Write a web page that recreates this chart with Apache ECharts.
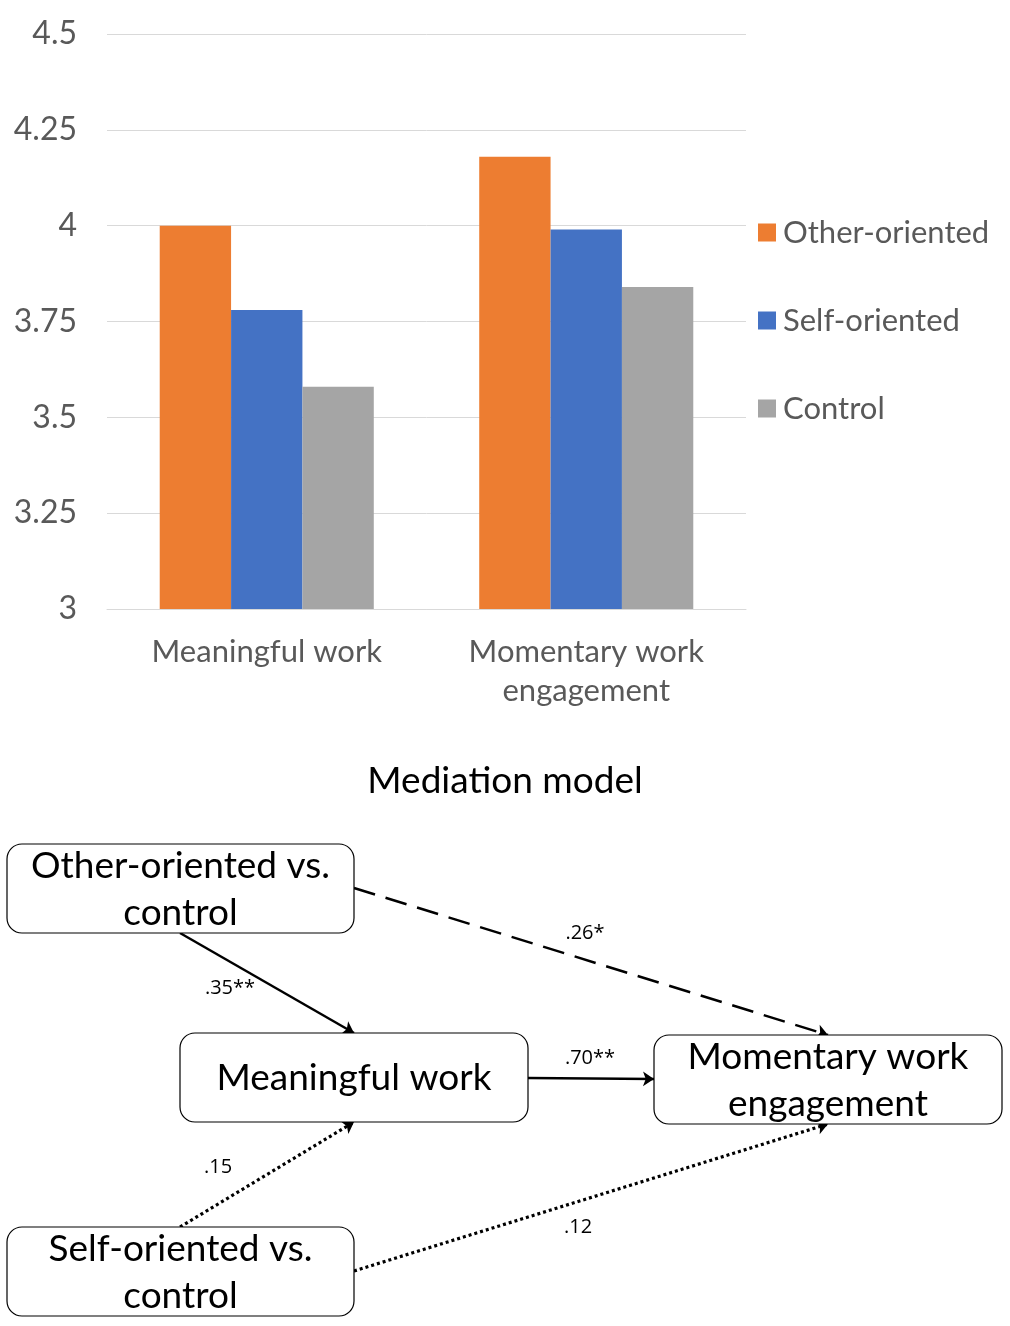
<!DOCTYPE html>
<html>
<head>
<meta charset="utf-8">
<script src="https://cdn.jsdelivr.net/npm/echarts@6/dist/echarts.min.js"></script>
<style>
html,body{margin:0;padding:0;background:#fff;}
#chart{width:1010px;height:1326px;}
</style>
</head>
<body>
<div id="chart"></div>
<script>
// ---- Bar chart data ----
const categories = ['Meaningful work', 'Momentary work\nengagement'];
const seriesNames = ['Other-oriented', 'Self-oriented', 'Control'];
const otherOriented = [4.00, 4.18];
const selfOriented = [3.78, 3.99];
const control = [3.58, 3.84];
const yMin = 3, yMax = 4.5, yStep = 0.25;

// ---- Mediation diagram data ----
const diagramTitle = 'Mediation model';
const nodeLabels = ['Other-oriented vs.\ncontrol', 'Meaningful work', 'Momentary work\nengagement', 'Self-oriented vs.\ncontrol'];
const pathCoefficients = ['.35**', '.26*', '.70**', '.15', '.12'];
const pathFromTo = [[0, 1], [0, 2], [1, 2], [3, 1], [3, 2]];
const pathKinds = ['solid', 'dashed', 'solid', 'dotted', 'dotted'];

// ---- Layout (pixel positions of the diagram, not data) ----
const boxLayout = [[7, 844, 347, 89], [180, 1033, 348, 89], [654, 1035, 348, 89], [7, 1227, 347, 89]];
const pathEnds = [
  [[180, 933], [354, 1033]],
  [[354, 888], [828, 1035]],
  [[528, 1078], [654, 1079]],
  [[180, 1227], [354, 1122]],
  [[354, 1271], [828, 1124]]
];
const labelPos = [[230, 988], [585, 933], [590, 1058], [218, 1167], [578, 1227]];

const colors = ['#ED7D31', '#4472C4', '#A5A5A5'];
const FONT = 'Lato, "Open Sans", sans-serif';
const dashMap = { solid: 'solid', dashed: [22, 11], dotted: [3, 3] };

const chart = echarts.init(document.getElementById('chart'), null, { renderer: 'canvas' });

const option = {
  animation: false,
  backgroundColor: '#fff',
  color: colors,
  title: {
    text: diagramTitle,
    left: 'center',
    top: 758,
    textStyle: { fontFamily: FONT, fontSize: 37, fontWeight: 'normal', color: '#000' }
  },
  legend: {
    orient: 'vertical',
    left: 758,
    top: 217,
    padding: 0,
    itemWidth: 18,
    itemHeight: 18,
    itemGap: 57,
    icon: 'rect',
    data: seriesNames,
    textStyle: { fontFamily: FONT, fontSize: 31, color: '#595959', lineHeight: 30, padding: [0, 0, 0, 2] }
  },
  grid: [
    { left: 107, right: 264, top: 34, bottom: 717, containLabel: false },
    { left: 0, right: 0, top: 0, bottom: 0, containLabel: false }
  ],
  xAxis: [
    {
      gridIndex: 0,
      type: 'category',
      data: categories,
      axisLine: { show: true, lineStyle: { color: '#d9d9d9', width: 1 } },
      axisTick: { show: false },
      axisLabel: { fontFamily: FONT, fontSize: 31, color: '#595959', lineHeight: 39, margin: 23 }
    },
    { gridIndex: 1, type: 'value', min: 0, max: 1010, show: false }
  ],
  yAxis: [
    {
      gridIndex: 0,
      type: 'value',
      min: yMin,
      max: yMax,
      interval: yStep,
      axisLine: { show: false },
      axisTick: { show: false },
      splitLine: { lineStyle: { color: '#d9d9d9', width: 1 } },
      axisLabel: { fontFamily: FONT, fontSize: 32, color: '#595959', margin: 30, padding: [3, 0, 0, 0] }
    },
    { gridIndex: 1, type: 'value', min: 0, max: 1326, inverse: true, show: false }
  ],
  series: [
    { name: seriesNames[0], type: 'bar', data: otherOriented, barGap: '0%', barCategoryGap: '33%' },
    { name: seriesNames[1], type: 'bar', data: selfOriented, barGap: '0%', barCategoryGap: '33%' },
    { name: seriesNames[2], type: 'bar', data: control, barGap: '0%', barCategoryGap: '33%' },
    {
      type: 'lines',
      coordinateSystem: 'cartesian2d',
      xAxisIndex: 1,
      yAxisIndex: 1,
      symbol: ['none', 'arrow'],
      symbolSize: [9, 11],
      silent: true,
      z: 3,
      lineStyle: { color: '#000', width: 2.5, opacity: 1 },
      data: pathEnds.map((c, i) => ({
        coords: c,
        lineStyle: { type: dashMap[pathKinds[i]], width: pathKinds[i] === 'dotted' ? 3.2 : 2.5 }
      }))
    },
    {
      type: 'custom',
      xAxisIndex: 1,
      yAxisIndex: 1,
      silent: true,
      z: 4,
      clip: false,
      data: boxLayout.map(b => [b[0] + b[2] / 2, b[1] + b[3] / 2]),
      renderItem: function (params, api) {
        const i = params.dataIndex;
        const b = boxLayout[i];
        const p0 = api.coord([b[0], b[1]]);
        const p1 = api.coord([b[0] + b[2], b[1] + b[3]]);
        const c = api.coord([api.value(0), api.value(1)]);
        return {
          type: 'group',
          children: [
            {
              type: 'rect',
              shape: { x: p0[0], y: p0[1], width: p1[0] - p0[0], height: p1[1] - p0[1], r: 15 },
              style: { fill: '#fff', stroke: '#000', lineWidth: 1.2 }
            },
            {
              type: 'text',
              style: {
                text: nodeLabels[i], x: c[0], y: c[1] + 1,
                align: 'center', verticalAlign: 'middle',
                fontFamily: FONT, fontSize: 37, lineHeight: 47, fill: '#000'
              }
            }
          ]
        };
      }
    },
    {
      type: 'custom',
      xAxisIndex: 1,
      yAxisIndex: 1,
      silent: true,
      z: 5,
      clip: false,
      data: labelPos,
      renderItem: function (params, api) {
        const c = api.coord([api.value(0), api.value(1)]);
        return {
          type: 'text',
          style: {
            text: pathCoefficients[params.dataIndex], x: c[0], y: c[1],
            align: 'center', verticalAlign: 'middle',
            fontFamily: '"Open Sans", Lato, sans-serif', fontSize: 20, fill: '#000'
          }
        };
      }
    }
  ]
};
chart.setOption(option);
</script>
</body>
</html>
